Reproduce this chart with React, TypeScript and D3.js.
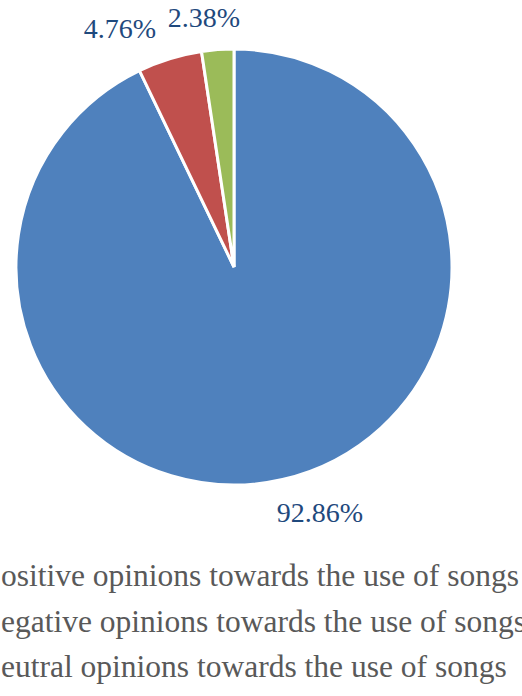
import React from "react";
import * as d3 from "d3";

const categories = [
  "Positive opinions towards the use of songs",
  "Negative opinions towards the use of songs",
  "Neutral opinions towards the use of songs",
];
const values = [92.86, 4.76, 2.38];
const valueLabels = ["92.86%", "4.76%", "2.38%"];
const colors = ["#4F81BD", "#C0504D", "#9BBB59"];

const W = 522;
const H = 696;
const cx = 234;
const cy = 267;
const R = 218;

// label positions (anchor x, baseline y) placed outside the pie
const labelPos: [number, number][] = [
  [320, 522],
  [120, 38],
  [204, 27],
];

// legend: the entries run off the left edge, with the marker column hidden
const legendX = 1;
const legendY0 = 586;
const legendStep = 45.5;

export default function App() {
  const pie = d3
    .pie<number>()
    .sort(null)
    .value((d) => d);
  const arcs = pie(values);
  const arc = d3.arc<d3.PieArcDatum<number>>().innerRadius(0).outerRadius(R);

  return (
    <svg
      width={W}
      height={H}
      style={{ position: "absolute", left: 0, top: 0 }}
      fontFamily="'Liberation Serif', 'Times New Roman', serif"
    >
      <rect width={W} height={H} fill="#fff" />
      <g transform={`translate(${cx},${cy})`}>
        {arcs.map((a, i) => (
          <path
            key={i}
            d={arc(a) || ""}
            fill={colors[i]}
            stroke="#fff"
            strokeWidth={3}
            strokeLinejoin="miter"
          />
        ))}
      </g>
      {valueLabels.map((t, i) => (
        <text
          key={t}
          x={labelPos[i][0]}
          y={labelPos[i][1]}
          textAnchor="middle"
          fontSize={28}
          fill="#1F497D"
        >
          {t}
        </text>
      ))}
      {categories.map((c, i) => (
        <g key={c} fontSize={31.5} fill="#595959">
          <text x={legendX - 2} y={legendY0 + i * legendStep} textAnchor="end">
            {c.slice(0, 1)}
          </text>
          <text x={legendX} y={legendY0 + i * legendStep}>
            {c.slice(1)}
          </text>
        </g>
      ))}
    </svg>
  );
}
